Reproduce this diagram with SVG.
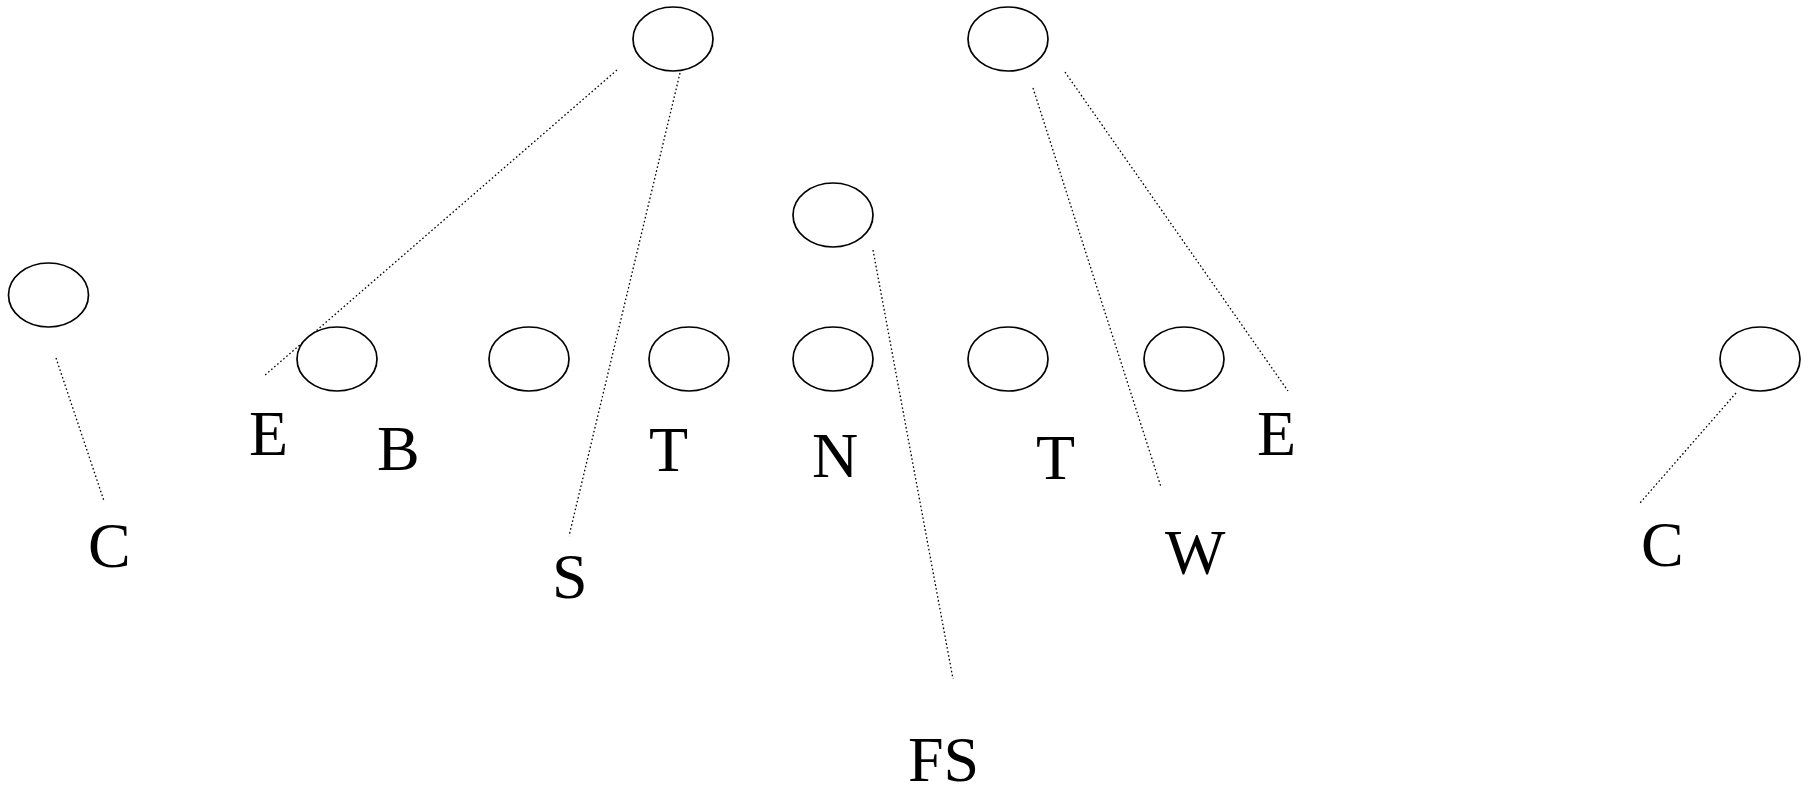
<svg xmlns="http://www.w3.org/2000/svg" width="1811" height="788" viewBox="0 0 1811 788">
<style>
.n{fill:#fff;stroke:#000;stroke-width:1.7}
.l{stroke:#000;stroke-width:1.3;stroke-dasharray:1.6 2.4;fill:none}
.t{font-family:'Liberation Serif','Times New Roman',Times,serif;font-size:64px;fill:#000}
</style>
<rect width="1811" height="788" fill="#fff"/>
<g id="connectors">
<line class="l" x1="56" y1="358" x2="104" y2="501"/>
<line class="l" x1="617" y1="70" x2="264" y2="376"/>
<line class="l" x1="680" y1="73" x2="569" y2="536"/>
<line class="l" x1="873" y1="250" x2="953" y2="679"/>
<line class="l" x1="1033" y1="88" x2="1161" y2="487"/>
<line class="l" x1="1065" y1="72" x2="1288" y2="391"/>
<line class="l" x1="1736" y1="393" x2="1640" y2="503"/>
</g>
<g id="node-top-left"><ellipse class="n" cx="673" cy="39" rx="40" ry="32"/></g>
<g id="node-top-right"><ellipse class="n" cx="1008" cy="39" rx="40" ry="32"/></g>
<g id="node-mid"><ellipse class="n" cx="833" cy="215" rx="40" ry="32"/></g>
<g id="node-left-c"><ellipse class="n" cx="48.5" cy="295" rx="40" ry="32"/></g>
<g id="node-row-1"><ellipse class="n" cx="337" cy="359" rx="40" ry="32"/></g>
<g id="node-row-2"><ellipse class="n" cx="529" cy="359" rx="40" ry="32"/></g>
<g id="node-row-3"><ellipse class="n" cx="689" cy="359" rx="40" ry="32"/></g>
<g id="node-row-4"><ellipse class="n" cx="833" cy="359" rx="40" ry="32"/></g>
<g id="node-row-5"><ellipse class="n" cx="1008" cy="359" rx="40" ry="32"/></g>
<g id="node-row-6"><ellipse class="n" cx="1184" cy="359" rx="40" ry="32"/></g>
<g id="node-right-c"><ellipse class="n" cx="1760" cy="359" rx="40" ry="32"/></g>
<g id="labels">
<text class="t" x="249" y="455">E</text>
<text class="t" x="377" y="470">B</text>
<text class="t" x="88" y="567">C</text>
<text class="t" x="552" y="598">S</text>
<text class="t" x="649" y="471">T</text>
<text class="t" x="812" y="477">N</text>
<text class="t" x="1036" y="479">T</text>
<text class="t" x="1165" y="574">W</text>
<text class="t" x="1257" y="455">E</text>
<text class="t" x="1641" y="566">C</text>
<text class="t" x="908" y="781">FS</text>
</g>
</svg>
